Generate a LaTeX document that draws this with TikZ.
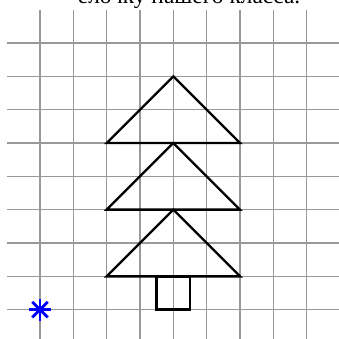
\documentclass[tikz,border=0pt]{standalone}
\usepackage{fontspec}
\setmainfont{Liberation Serif}
\begin{document}
\begin{tikzpicture}[x=1cm,y=1cm]
            \useasboundingbox (-1.2,-0.85) rectangle (8.97,9.29);
            \clip (-1.2,-0.85) rectangle (8.97,9.29);
            % grid
            \foreach \i in {0,...,8} \draw[line width=1pt,color=gray!80] (\i,-0.9) -- (\i,9);
            \foreach \j in {0,...,8} \draw[line width=1pt,color=gray!80] (-1,\j) -- (9,\j);
            
            % tree
            \draw[line width=2pt,line join=miter] (2,1) -- (4,3) -- (6,1) -- cycle;
            \draw[line width=2pt,line join=miter] (2,3) -- (4,5) -- (6,3) -- cycle;
            \draw[line width=2pt,line join=miter] (2,5) -- (4,7) -- (6,5) -- cycle;
            \draw[line width=2pt] (3.5,0) rectangle (4.5,1);
            
            % star
            \coordinate (star) at (0,0);
            \foreach \a in {0,45,90,135} \draw[blue,line width=2.4pt] (star) ++(\a:0.33) -- ++(\a+180:0.66);
            
            \node[anchor=base west,inner sep=0pt,font=\fontsize{20}{24}\selectfont] (title) at (1.13,9.17) {ёлочку нашего класса.};
        
        \end{tikzpicture}
\end{document}
